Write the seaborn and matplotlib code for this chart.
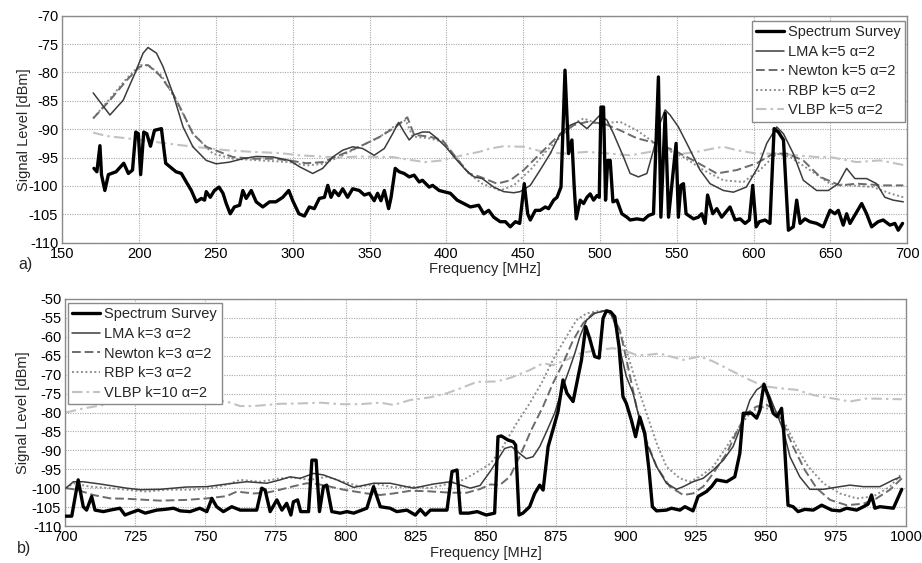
import matplotlib
matplotlib.use("Agg")
import matplotlib.pyplot as plt
import seaborn as sns

# ---------------- a) 150-700 MHz ----------------
a_survey_mhz = [
    170.6, 172.5, 174.5, 175.5, 177.7, 180.0, 185.0, 190.0, 193.0, 195.7,
    197.8, 199.5, 201.0, 203.0, 205.0, 207.4, 210.0, 214.5, 217.3, 220.0,
    224.0, 227.5, 230.7, 234.0, 237.2, 240.5, 242.6, 243.7, 246.3, 249.0,
    252.0, 254.6, 256.7, 259.3, 262.0, 265.4, 267.5, 269.7, 273.0, 276.2,
    280.5, 284.9, 289.0, 293.5, 297.4, 300.0, 304.0, 307.6, 310.8, 314.0,
    317.3, 320.6, 322.8, 324.9, 327.0, 329.9, 332.5, 335.7, 339.0, 343.3,
    346.6, 349.8, 353.0, 355.2, 357.4, 359.6, 362.4, 364.0, 366.7, 369.3,
    372.5, 375.8, 379.0, 382.3, 384.4, 388.8, 391.0, 395.3, 399.6, 402.6,
    407.0, 411.3, 415.6, 421.0, 424.3, 427.5, 430.8, 435.0, 438.4, 441.6,
    444.9, 447.7, 450.7, 452.9, 454.6, 457.9, 461.0, 464.4, 466.5, 469.8,
    472.0, 474.6, 477.2, 479.5, 481.7, 483.2, 484.5, 487.1, 489.3, 491.5,
    493.6, 495.8, 498.0, 499.5, 500.6, 502.3, 503.6, 505.0, 506.6, 508.4,
    511.0, 514.2, 517.5, 519.6, 524.0, 528.3, 531.6, 534.8, 538.0, 539.6,
    542.4, 544.6, 549.5, 551.0, 552.6, 554.3, 556.0, 560.8, 564.0, 566.2,
    568.4, 570.0, 573.4, 576.0, 579.2, 584.6, 587.9, 591.2, 594.4, 597.2,
    599.4, 601.6, 603.7, 607.4, 610.6, 613.3, 616.1, 619.4, 622.6, 625.8,
    628.0, 630.2, 633.4, 636.6, 641.0, 645.3, 649.7, 652.9, 655.1, 658.3,
    660.5, 662.7, 670.3, 673.5, 676.8, 681.0, 684.3, 688.7, 691.9, 694.1, 696.9,
]
a_survey_dbm = [
    -96.9, -97.5, -92.9, -98.0, -100.8, -98.0, -97.5, -96.0, -97.8, -97.2,
    -90.5, -90.8, -98.0, -90.5, -90.8, -93.0, -90.2, -89.9, -96.0, -96.6,
    -97.5, -97.8, -99.3, -100.8, -102.8, -102.2, -102.5, -101.0, -102.0, -100.8,
    -100.2, -101.3, -103.1, -104.9, -103.7, -103.4, -100.8, -102.2, -100.8, -102.8,
    -103.7, -102.8, -102.8, -102.0, -100.8, -102.6, -104.9, -105.3, -103.7, -104.0,
    -102.2, -102.0, -99.9, -102.0, -100.8, -101.7, -100.5, -102.0, -100.5, -100.8,
    -101.6, -101.3, -102.6, -101.3, -102.6, -100.8, -104.0, -102.0, -96.9, -97.5,
    -97.8, -98.4, -98.1, -99.3, -99.0, -100.2, -99.9, -100.8, -101.1, -101.3,
    -102.5, -103.1, -103.7, -103.4, -104.9, -104.3, -105.5, -106.3, -106.3, -107.2,
    -106.3, -106.6, -99.6, -104.9, -106.0, -104.3, -104.3, -103.7, -104.0, -102.5,
    -102.0, -100.2, -79.6, -94.3, -91.9, -100.2, -105.8, -102.5, -103.1, -102.0,
    -101.4, -102.5, -101.7, -102.0, -86.1, -86.1, -102.5, -95.5, -95.5, -102.8,
    -102.5, -104.9, -105.5, -106.0, -105.8, -106.0, -105.2, -104.9, -80.8, -105.5,
    -87.2, -105.5, -92.5, -105.5, -99.9, -99.6, -104.9, -105.8, -105.5, -104.9,
    -106.6, -101.6, -104.9, -104.0, -105.5, -103.7, -106.0, -105.8, -106.6, -106.0,
    -99.9, -107.2, -106.3, -106.0, -106.6, -89.9, -90.5, -91.9, -107.8, -107.2,
    -102.5, -106.6, -105.8, -106.3, -106.6, -107.2, -104.3, -104.9, -104.3, -106.9,
    -104.9, -106.6, -103.1, -104.9, -107.2, -106.3, -106.0, -106.9, -106.6, -107.8, -106.6,
]

a_lma_mhz = [
    170.1, 181.0, 189.6, 197.2, 202.6, 205.8, 211.3, 215.6, 222.0, 228.6,
    235.0, 243.7, 250.2, 258.9, 267.5, 276.2, 287.0, 297.8, 304.3, 313.0,
    319.5, 326.0, 332.5, 339.0, 345.5, 353.0, 359.6, 365.0, 368.9, 372.5,
    375.8, 379.0, 384.4, 388.8, 393.0, 399.6, 406.0, 412.6, 418.0, 423.3,
    430.8, 437.3, 443.8, 448.0, 454.6, 461.0, 467.6, 474.0, 480.6, 486.0,
    491.5, 495.8, 500.0, 504.5, 508.8, 515.3, 519.6, 525.0, 530.5, 534.8,
    539.0, 542.4, 545.6, 551.0, 557.6, 565.1, 571.6, 580.3, 586.8, 595.2,
    603.0, 608.5, 615.0, 619.4, 625.8, 632.3, 641.0, 648.6, 655.0, 660.5,
    665.9, 673.5, 680.0, 685.4, 690.8, 697.4,
]
a_lma_dbm = [
    -83.6, -87.5, -84.9, -80.2, -76.6, -75.6, -76.6, -79.0, -83.7, -89.6,
    -93.1, -95.5, -96.1, -95.8, -95.2, -94.8, -94.9, -95.5, -96.6, -97.8,
    -96.9, -94.9, -93.7, -93.1, -93.4, -94.6, -93.4, -90.8, -88.8, -90.5,
    -91.9, -91.0, -90.5, -90.5, -91.4, -93.1, -95.2, -97.2, -98.4, -98.7,
    -100.2, -101.0, -101.2, -101.0, -99.9, -97.2, -94.3, -90.8, -89.3, -88.7,
    -89.9, -88.7, -87.5, -88.4, -90.8, -94.9, -97.8, -98.4, -97.8, -93.7,
    -89.0, -86.6, -87.5, -89.6, -93.1, -97.2, -99.6, -100.8, -101.1, -100.2,
    -96.6, -92.5, -89.6, -90.8, -94.3, -99.0, -100.8, -100.8, -99.6, -96.9,
    -98.7, -98.7, -99.6, -102.0, -102.5, -102.8,
]

a_newton_mhz = [
    170.1, 181.0, 191.8, 200.4, 205.8, 213.4, 222.0, 228.6, 235.0, 243.7,
    252.4, 261.0, 274.0, 287.0, 297.8, 308.7, 319.5, 330.3, 343.3, 356.3,
    367.0, 374.6, 379.0, 388.8, 397.4, 406.0, 414.7, 422.0, 433.0, 441.6,
    450.3, 461.0, 472.0, 482.8, 491.5, 502.3, 513.1, 524.0, 537.0, 547.8,
    560.8, 576.0, 589.0, 602.0, 612.8, 621.5, 632.3, 643.2, 656.2, 667.0,
    684.3, 697.4,
]
a_newton_dbm = [
    -88.1, -84.9, -81.4, -79.0, -78.7, -80.5, -83.7, -87.2, -90.8, -93.1,
    -94.0, -94.9, -95.2, -95.2, -95.5, -96.0, -95.8, -94.6, -93.1, -91.4,
    -89.6, -87.9, -91.0, -91.3, -91.9, -94.9, -97.8, -98.4, -99.6, -99.0,
    -97.2, -94.3, -91.4, -89.3, -88.7, -89.0, -90.2, -91.6, -92.5, -93.7,
    -95.5, -97.8, -97.2, -96.0, -94.3, -94.3, -95.5, -98.4, -99.9, -99.6,
    -99.9, -99.9,
]

a_rbp_mhz = [
    170.1, 181.0, 191.8, 200.4, 205.8, 214.5, 224.0, 235.0, 248.0, 261.0,
    278.5, 297.8, 308.7, 319.5, 330.3, 343.3, 356.3, 367.0, 373.5, 378.0,
    388.8, 397.4, 406.0, 414.7, 423.3, 435.0, 443.8, 454.6, 465.5, 476.3,
    485.0, 489.3, 498.0, 513.1, 524.0, 539.0, 554.3, 567.3, 580.3, 593.3,
    604.0, 615.0, 623.7, 636.6, 649.7, 662.7, 677.8, 688.7, 697.4,
]
a_rbp_dbm = [
    -88.1, -84.6, -81.1, -78.7, -78.7, -80.5, -84.9, -90.8, -94.3, -95.2,
    -95.5, -95.8, -96.4, -96.1, -94.9, -93.1, -91.4, -89.3, -88.4, -91.3,
    -91.6, -92.2, -94.9, -97.8, -99.6, -100.8, -99.9, -97.2, -93.7, -90.8,
    -88.7, -88.1, -89.0, -88.7, -90.2, -93.1, -94.9, -97.2, -99.0, -99.3,
    -97.2, -94.3, -94.9, -97.2, -99.6, -99.9, -100.2, -101.3, -102.0,
]

a_vlbp_mhz = [
    170.1, 178.8, 191.8, 209.1, 226.4, 239.4, 256.7, 274.0, 291.4, 304.3,
    317.3, 330.3, 343.3, 356.3, 365.0, 375.8, 386.6, 397.4, 410.4, 421.2,
    428.6, 437.3, 450.3, 463.3, 476.3, 491.5, 506.6, 519.6, 532.6, 545.6,
    554.3, 563.0, 573.8, 580.3, 589.0, 602.0, 615.0, 628.0, 641.0, 649.7,
    667.0, 682.2, 697.4,
]
a_vlbp_dbm = [
    -90.6, -91.2, -91.6, -92.2, -92.8, -93.2, -93.7, -94.0, -94.2, -94.6,
    -94.8, -95.0, -94.8, -94.9, -94.9, -95.4, -95.8, -95.5, -94.6, -94.0,
    -93.4, -93.0, -93.1, -94.0, -94.3, -94.0, -94.3, -94.6, -94.0, -93.7,
    -94.3, -94.0, -93.4, -93.1, -93.7, -94.3, -94.3, -94.6, -94.9, -94.9,
    -95.8, -95.5, -96.3,
]

a_labels = ["Spectrum Survey", "LMA k=5 \u03b1=2", "Newton k=5 \u03b1=2",
            "RBP k=5 \u03b1=2", "VLBP k=5 \u03b1=2"]

# ---------------- b) 700-1000 MHz ----------------
b_survey_mhz = [
    700.2, 702.3, 704.6, 706.4, 707.6, 709.4, 710.6, 713.6, 716.0, 719.5,
    721.3, 723.0, 726.0, 728.5, 732.6, 735.6, 738.6, 741.0, 744.5, 748.0,
    750.5, 752.3, 754.0, 756.4, 759.4, 762.4, 768.3, 770.1, 771.3, 773.1,
    775.5, 777.3, 779.0, 780.5, 781.4, 782.9, 784.0, 786.8, 788.0, 789.5,
    790.7, 792.1, 793.3, 795.1, 798.1, 800.5, 802.9, 805.8, 807.6, 810.0,
    812.4, 815.9, 818.3, 821.9, 824.9, 826.7, 828.5, 830.3, 833.3, 836.2,
    838.0, 839.8, 841.0, 844.0, 847.0, 850.2, 853.2, 854.4, 855.6, 858.0,
    859.8, 860.7, 861.9, 863.3, 865.7, 867.5, 869.3, 870.5, 872.3, 874.0,
    875.8, 877.6, 879.0, 881.2, 883.0, 884.2, 885.7, 887.1, 888.9, 890.5,
    891.9, 893.1, 894.6, 896.1, 897.6, 899.0, 900.2, 902.0, 903.5, 905.0,
    906.8, 908.3, 909.5, 911.0, 914.5, 916.3, 919.3, 921.1, 924.0, 925.8,
    928.8, 930.6, 932.4, 936.0, 938.9, 940.7, 941.9, 944.9, 946.7, 947.9,
    949.3, 950.9, 952.6, 954.0, 955.6, 956.4, 957.9, 959.7, 961.5, 963.9,
    966.9, 969.9, 973.5, 976.4, 978.8, 982.4, 984.8, 986.5, 987.7, 988.9,
    990.7, 995.5, 998.5,
]
b_survey_dbm = [
    -107.4, -107.4, -97.8, -104.9, -105.8, -102.2, -105.8, -106.2, -105.8, -105.3,
    -107.1, -106.6, -105.8, -106.6, -105.8, -105.6, -105.3, -106.0, -106.2, -105.3,
    -106.2, -102.7, -104.9, -106.2, -104.9, -105.8, -105.8, -100.0, -100.5, -106.2,
    -103.1, -105.8, -104.0, -107.1, -103.6, -103.1, -106.2, -106.2, -92.6, -92.6,
    -106.2, -99.6, -99.2, -106.2, -106.6, -106.2, -106.6, -105.8, -105.3, -99.6,
    -104.9, -105.3, -106.2, -105.8, -107.1, -105.6, -107.1, -105.8, -105.8, -105.8,
    -95.6, -95.2, -106.6, -106.6, -106.2, -107.1, -106.6, -86.4, -86.2, -87.3,
    -87.7, -88.6, -107.1, -106.6, -104.9, -101.4, -99.2, -100.5, -89.0, -84.6,
    -79.8, -71.4, -74.9, -77.1, -70.5, -66.1, -57.3, -60.4, -65.2, -65.6,
    -55.1, -53.1, -53.4, -54.7, -62.6, -75.8, -77.6, -82.0, -86.4, -81.2,
    -85.5, -95.2, -104.9, -106.0, -105.8, -105.3, -105.8, -104.9, -106.0, -102.2,
    -100.9, -99.6, -97.8, -98.3, -97.0, -90.8, -80.2, -80.2, -81.5, -79.3,
    -72.5, -75.8, -80.2, -81.1, -78.9, -85.5, -104.5, -104.9, -106.2, -105.6,
    -105.8, -104.5, -105.8, -106.0, -105.3, -105.8, -104.9, -104.2, -101.8, -105.3,
    -104.9, -105.3, -100.3,
]

b_lma_mhz = [
    700.2, 702.9, 706.4, 712.4, 721.9, 726.7, 733.8, 743.3, 750.5, 757.6,
    764.8, 771.9, 776.7, 780.2, 783.8, 788.6, 792.1, 796.9, 802.9, 810.0,
    815.9, 824.3, 831.4, 837.4, 844.5, 848.0, 851.7, 856.8, 859.2, 862.1,
    864.5, 866.9, 869.3, 871.7, 874.6, 877.6, 880.0, 881.8, 883.6, 886.0,
    888.9, 892.5, 894.9, 896.7, 898.5, 900.2, 902.6, 905.0, 907.4, 911.0,
    914.5, 918.1, 920.5, 924.0, 927.6, 931.2, 934.8, 938.3, 941.9, 944.3,
    946.7, 949.3, 951.4, 953.8, 956.2, 958.6, 962.1, 965.7, 970.5, 976.4,
    980.0, 984.8, 990.7, 995.5, 997.9,
]
b_lma_dbm = [
    -100.0, -98.3, -98.3, -98.9, -100.0, -100.4, -100.3, -99.7, -99.6, -98.9,
    -98.3, -98.7, -97.8, -97.0, -97.4, -96.1, -96.5, -97.8, -99.8, -98.7,
    -98.7, -100.0, -98.9, -98.3, -100.0, -99.3, -95.5, -89.5, -89.0, -90.8,
    -92.2, -91.7, -89.0, -85.1, -80.2, -73.2, -68.3, -64.4, -60.0, -55.6,
    -53.8, -53.1, -53.8, -58.2, -65.2, -70.5, -74.9, -82.0, -88.1, -94.3,
    -98.7, -100.3, -99.6, -98.3, -97.4, -95.2, -92.6, -89.0, -82.0, -76.7,
    -74.0, -72.7, -75.8, -80.2, -84.6, -91.7, -97.0, -100.3, -100.3, -99.6,
    -99.2, -99.6, -99.6, -97.8, -97.1,
]

b_newton_mhz = [
    700.2, 704.0, 710.0, 716.0, 721.9, 729.0, 733.8, 743.3, 750.5, 757.6,
    761.2, 767.1, 771.9, 776.7, 781.4, 786.2, 789.8, 793.3, 799.3, 807.6,
    812.4, 817.1, 823.1, 829.0, 837.4, 843.3, 848.1, 851.7, 855.0, 858.6,
    862.1, 866.3, 870.5, 874.0, 877.6, 881.2, 884.8, 888.3, 892.5, 895.5,
    897.9, 900.8, 903.8, 906.8, 911.0, 915.7, 920.5, 924.0, 927.6, 931.2,
    936.0, 939.6, 943.1, 946.7, 950.3, 953.3, 956.2, 959.7, 963.9, 968.1,
    972.9, 978.8, 984.8, 989.5, 994.3, 998.5,
]
b_newton_dbm = [
    -100.0, -100.4, -101.8, -102.7, -102.8, -103.1, -103.3, -103.1, -102.7, -102.1,
    -100.9, -101.4, -101.2, -100.4, -99.5, -98.7, -98.9, -99.4, -100.4, -101.4,
    -101.8, -101.4, -100.7, -100.8, -101.2, -101.2, -100.2, -99.0, -99.2, -97.0,
    -91.7, -84.6, -78.4, -72.3, -67.0, -60.9, -56.4, -53.8, -53.1, -54.7,
    -58.2, -67.9, -78.4, -86.4, -94.3, -99.6, -101.8, -101.4, -99.6, -96.1,
    -90.8, -85.1, -80.2, -78.4, -78.0, -79.3, -82.9, -89.0, -95.2, -100.0,
    -103.1, -104.5, -104.1, -102.7, -100.4, -97.4,
]

b_rbp_mhz = [
    700.2, 702.9, 708.8, 716.0, 724.3, 729.0, 736.2, 745.7, 751.7, 757.6,
    762.4, 769.5, 776.7, 781.4, 787.4, 793.3, 799.3, 805.2, 811.2, 817.1,
    823.1, 830.2, 837.4, 842.1, 848.1, 851.7, 856.2, 861.0, 865.7, 869.9,
    874.0, 878.8, 882.4, 886.0, 890.7, 893.7, 896.7, 900.2, 903.8, 907.4,
    911.0, 914.5, 919.3, 922.9, 926.4, 931.2, 936.0, 940.7, 944.3, 947.9,
    950.3, 953.8, 957.4, 960.9, 965.1, 970.5, 976.4, 982.4, 988.3, 994.3,
    998.5,
]
b_rbp_dbm = [
    -100.0, -98.7, -99.6, -100.0, -100.6, -100.9, -100.4, -100.4, -100.0, -99.1,
    -97.8, -98.3, -97.4, -97.2, -97.8, -97.0, -98.3, -99.6, -98.9, -99.8,
    -99.6, -100.0, -98.7, -97.8, -95.2, -93.5, -89.0, -82.9, -77.6, -72.3,
    -66.1, -60.0, -55.6, -53.8, -53.1, -53.4, -56.4, -63.5, -72.3, -80.2,
    -88.1, -94.3, -97.4, -98.3, -97.0, -94.3, -89.0, -83.7, -80.2, -78.4,
    -78.9, -79.8, -83.7, -89.0, -94.3, -98.7, -101.4, -102.7, -102.2, -99.6,
    -96.1,
]

b_vlbp_mhz = [
    700.2, 706.0, 715.0, 725.0, 740.0, 751.7, 757.6, 762.4, 767.1, 771.9,
    776.7, 783.8, 791.0, 798.1, 805.2, 812.4, 817.1, 823.1, 830.2, 836.2,
    841.0, 846.9, 853.8, 858.6, 865.7, 870.5, 874.0, 878.8, 883.6, 889.5,
    895.5, 899.0, 903.8, 907.4, 912.1, 920.5, 926.4, 931.2, 938.3, 944.3,
    949.0, 955.0, 960.9, 966.9, 974.0, 980.0, 986.0, 998.5,
]
b_vlbp_dbm = [
    -80.0, -79.0, -77.8, -77.0, -76.6, -76.7, -77.1, -78.3, -78.3, -78.0,
    -77.7, -77.6, -77.4, -77.8, -77.8, -77.4, -78.0, -76.7, -76.0, -74.9,
    -73.6, -71.9, -71.8, -70.9, -68.8, -67.0, -67.5, -66.1, -64.4, -63.5,
    -63.0, -63.5, -64.8, -64.8, -64.4, -66.1, -65.2, -66.5, -69.2, -71.4,
    -73.0, -73.6, -74.0, -75.4, -76.3, -77.1, -76.3, -76.5,
]

b_labels = ["Spectrum Survey", "LMA k=3 \u03b1=2", "Newton k=3 \u03b1=2",
            "RBP k=3 \u03b1=2", "VLBP k=10 \u03b1=2"]

# ---------------- styling ----------------
sns.set_style("whitegrid")
plt.rcParams["font.family"] = ["Liberation Sans", "DejaVu Sans"]
plt.rcParams["font.size"] = 10.5
plt.rcParams["axes.unicode_minus"] = False

# survey, LMA, Newton, RBP, VLBP
line_styles = [
    dict(color="#000000", linewidth=2.4, linestyle="-", zorder=6),
    dict(color="#3c3c3c", linewidth=1.1, linestyle="-", zorder=5),
    dict(color="#6b6b6b", linewidth=1.4, linestyle=(0, (4.5, 2.0)), zorder=4),
    dict(color="#8e8e8e", linewidth=1.4, linestyle=(0, (1.0, 1.3)), zorder=3),
    dict(color="#c2c2c2", linewidth=1.5, linestyle=(0, (5.0, 2.0, 1.2, 2.0)), zorder=2),
]

W, H = 922, 563
fig = plt.figure(figsize=(W / 100, H / 100), dpi=100)
ax_a = fig.add_axes([62.3 / W, 1 - 242.7 / H, (907.3 - 62.3) / W, 227 / H])
ax_b = fig.add_axes([65.3 / W, 1 - 526.0 / H, (906.0 - 65.3) / W, 227 / H])


def draw_panel(ax, series, labels, xlim, ylim, xstep, ystep, legend_loc, legend_anchor,
               ylabel_x, xlabel_y):
    handles = []
    for (mhz, dbm), label, st in zip(series, labels, line_styles):
        sns.lineplot(x=mhz, y=dbm, ax=ax, label=label, estimator=None, **st)
        handles.append(ax.get_lines()[-1])
    ax.set_xlim(*xlim)
    ax.set_ylim(*ylim)
    ax.set_xticks(range(xlim[0], xlim[1] + 1, xstep))
    ax.set_yticks(range(ylim[0], ylim[1] + 1, ystep))
    ax.grid(True, color="#a9a9a9", linestyle=(0, (1, 1.2)), linewidth=0.8)
    ax.set_axisbelow(True)
    for sp in ax.spines.values():
        sp.set_visible(True)
        sp.set_color("#8a8a8a")
        sp.set_linewidth(1.0)
    ax.tick_params(axis="both", which="major", direction="in", length=3,
                   color="#8a8a8a", labelsize=10.5, pad=3, labelcolor="black")
    ax.set_xlabel("Frequency [MHz]", fontsize=10.5)
    ax.set_ylabel("Signal Level [dBm]", fontsize=10.5)
    ax.xaxis.set_label_coords(0.5, xlabel_y)
    ax.xaxis.label.set_va("top")
    ax.yaxis.set_label_coords(ylabel_x, 0.5)
    leg = ax.legend(handles, labels, loc=legend_loc, bbox_to_anchor=legend_anchor,
                    frameon=True, fancybox=False, framealpha=1.0, edgecolor="#8a8a8a",
                    borderaxespad=0.0, handlelength=1.9, handletextpad=0.3,
                    labelspacing=0.38, borderpad=0.3, fontsize=10.5)
    leg.get_frame().set_linewidth(1.0)
    leg.set_zorder(10)


draw_panel(
    ax_a,
    [(a_survey_mhz, a_survey_dbm), (a_lma_mhz, a_lma_dbm), (a_newton_mhz, a_newton_dbm),
     (a_rbp_mhz, a_rbp_dbm), (a_vlbp_mhz, a_vlbp_dbm)],
    a_labels, (150, 700), (-110, -70), 50, 5,
    "upper right", (0.9975, 0.978), -0.0375, -0.085,
)
draw_panel(
    ax_b,
    [(b_survey_mhz, b_survey_dbm), (b_lma_mhz, b_lma_dbm), (b_newton_mhz, b_newton_dbm),
     (b_rbp_mhz, b_rbp_dbm), (b_vlbp_mhz, b_vlbp_dbm)],
    b_labels, (700, 1000), (-110, -50), 25, 5,
    "upper left", (0.0032, 0.982), -0.0415, -0.088,
)

fig.text(18 / W, 1 - 265 / H, "a)", fontsize=11.5, va="center", ha="left")
fig.text(17 / W, 1 - 548 / H, "b)", fontsize=11.5, va="center", ha="left")

fig.savefig("out.png", dpi=100)
